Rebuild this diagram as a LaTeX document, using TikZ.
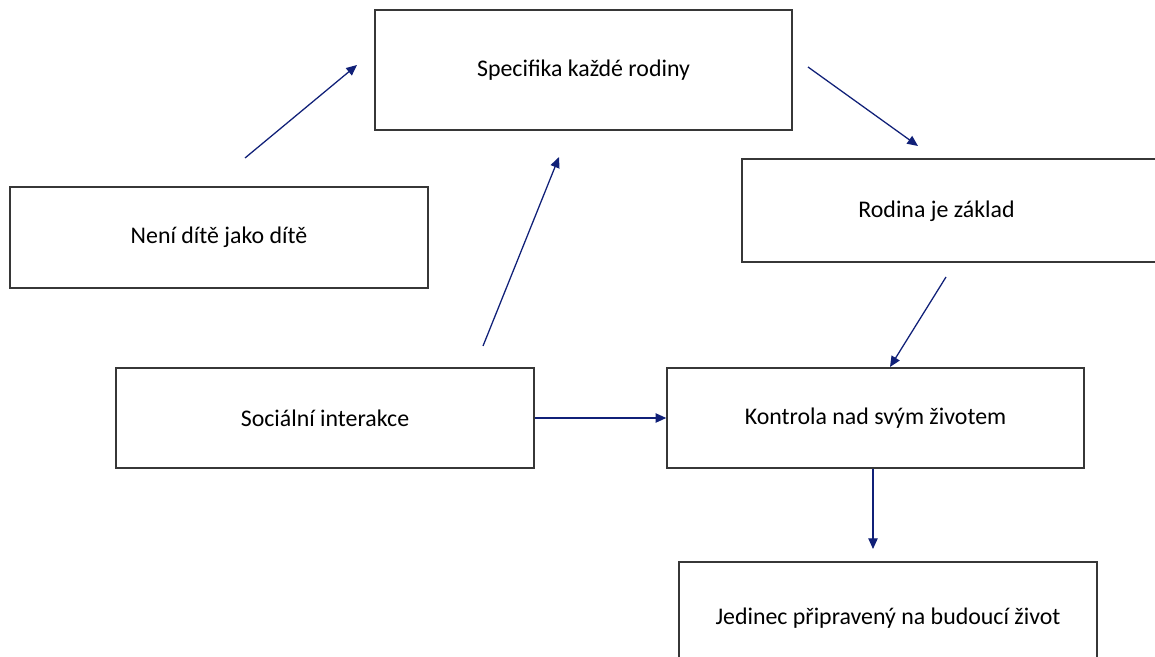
\documentclass[tikz,border=0pt]{standalone}
\usepackage{fontspec}
\setmainfont{Carlito}
\usetikzlibrary{arrows.meta}
\definecolor{arrowblue}{RGB}{16,32,120}
\definecolor{boxline}{RGB}{55,55,55}
\begin{document}
\begin{tikzpicture}[x=0.75pt,y=-0.75pt,
  box/.style={draw=boxline,line width=1.1pt,fill=white,rectangle,inner sep=0pt,
    font=\fontsize{17.9pt}{21pt}\selectfont},
  lbl/.style={font=\fontsize{17.9pt}{21pt}\selectfont,inner sep=0pt},
  conn/.style={draw=arrowblue,line width=0.95pt,-{Triangle[length=8pt,width=7pt]}}]
\useasboundingbox (0,0) rectangle (1155,656);
\clip (0,0) rectangle (1155,656);
\fill[white] (0,0) rectangle (1155,656);

\node[box,minimum width=312.75pt,minimum height=90pt] (spec) at (583.5,70) {Specifika každé rodiny};
\node[box,minimum width=313.5pt,minimum height=75.75pt] (neni) at (219,237.5) {Není dítě jako dítě};
\node[box,minimum width=313.5pt,minimum height=77.25pt] (rod) at (951,210.5) {};
\node[lbl] (rodtext) at (936.5,211) {Rodina je základ};
\node[box,minimum width=313.5pt,minimum height=75pt] (soc) at (325,418) {Sociální interakce};
\node[box,minimum width=312.75pt,minimum height=75pt] (kon) at (875.5,418) {Kontrola nad svým životem};
\node[box,minimum width=313.5pt,minimum height=84pt] (jed) at (888,618) {Jedinec připravený na budoucí život};

\coordinate (a1s) at (245,158); \coordinate (a1e) at (357,65);
\coordinate (a2s) at (483,346); \coordinate (a2e) at (559,157);
\coordinate (a3s) at (808,67);  \coordinate (a3e) at (918,146);
\coordinate (a4s) at (946,277); \coordinate (a4e) at (890,367);
\coordinate (a6e) at (873,549);

\draw[conn] (a1s) -- (a1e);
\draw[conn] (a2s) -- (a2e);
\draw[conn] (a3s) -- (a3e);
\draw[conn] (a4s) -- (a4e);
\draw[conn] (soc.east) -- (kon.west);
\draw[conn] (a6e |- kon.south) -- (a6e);
\end{tikzpicture}
\end{document}
